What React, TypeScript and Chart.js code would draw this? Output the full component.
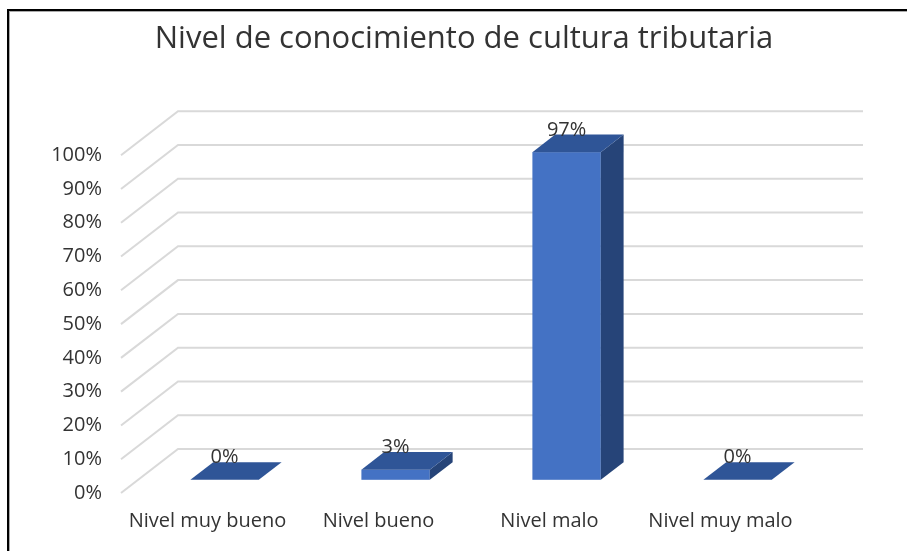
import React, { useEffect, useRef } from 'react';
import { Chart, registerables } from 'chart.js';

Chart.register(...registerables);

const title = 'Nivel de conocimiento de cultura tributaria';
const categories = ['Nivel muy bueno', 'Nivel bueno', 'Nivel malo', 'Nivel muy malo'];
const values = [0, 3, 97, 0];
const valueLabels = ['0%', '3%', '97%', '0%'];
const yMin = 0;
const yMax = 100;
const yStep = 10;

const FONT = "'Open Sans', 'Noto Sans', sans-serif";
const TEXT = '#333333';
const GRID = '#D9D9D9';
const FRONT_COLOR = '#4472C4';
const TOP_COLOR = '#2F5597';
const SIDE_COLOR = '#264478';

// projection of the depth axis (full depth of the plot box)
const DEPTH_X = 57;
const DEPTH_Y = -44;
const BAR_FRONT = 0.3; // fraction of depth where bar front sits
const BAR_DEPTH = 0.4; // fraction of depth occupied by bar

const threeD = {
  id: 'threeD',
  beforeDraw(chart: any) {
    const ctx = chart.ctx;
    ctx.save();
    ctx.fillStyle = '#ffffff';
    ctx.fillRect(0, 0, chart.width, chart.height);
    ctx.fillStyle = '#000000';
    ctx.fillRect(7, 9, 2, chart.height);
    ctx.fillRect(7, 9, chart.width, 2);
    ctx.fillStyle = '#aaaaaa';
    ctx.fillRect(9, 11, 1, chart.height);
    ctx.fillRect(9, 11, chart.width, 1);
    ctx.restore();
  },
  beforeDatasetsDraw(chart: any) {
    const ctx = chart.ctx;
    const { left, right } = chart.chartArea;
    const yScale = chart.scales.y;
    ctx.save();
    ctx.strokeStyle = GRID;
    ctx.lineWidth = 2;
    yScale.ticks.forEach((t: any) => {
      const y = yScale.getPixelForValue(t.value);
      ctx.beginPath();
      ctx.moveTo(left - 1, y);
      ctx.lineTo(left - 1 + DEPTH_X, y + DEPTH_Y);
      ctx.lineTo(right + DEPTH_X, y + DEPTH_Y);
      ctx.stroke();
    });
    ctx.restore();
  },
  afterDatasetsDraw(chart: any) {
    const ctx = chart.ctx;
    const meta = chart.getDatasetMeta(0);
    const fx = BAR_FRONT * DEPTH_X;
    const fy = BAR_FRONT * DEPTH_Y;
    const dx = BAR_DEPTH * DEPTH_X;
    const dy = BAR_DEPTH * DEPTH_Y;
    ctx.save();
    meta.data.forEach((el: any, i: number) => {
      const { x, y, base, width } = el.getProps(['x', 'y', 'base', 'width'], true);
      const l = x - width / 2 + fx;
      const r = x + width / 2 + fx;
      const top = y + fy;
      const bot = base + fy;
      const h = bot - top;
      if (h > 0.5) {
        ctx.fillStyle = FRONT_COLOR;
        ctx.fillRect(l, top, r - l, h);
        ctx.fillStyle = SIDE_COLOR;
        ctx.beginPath();
        ctx.moveTo(r, top);
        ctx.lineTo(r + dx, top + dy);
        ctx.lineTo(r + dx, bot + dy);
        ctx.lineTo(r, bot);
        ctx.closePath();
        ctx.fill();
      }
      ctx.fillStyle = TOP_COLOR;
      ctx.beginPath();
      ctx.moveTo(l, top);
      ctx.lineTo(r, top);
      ctx.lineTo(r + dx, top + dy);
      ctx.lineTo(l + dx, top + dy);
      ctx.closePath();
      ctx.fill();

      ctx.fillStyle = TEXT;
      ctx.font = `20px ${FONT}`;
      ctx.textAlign = 'center';
      ctx.textBaseline = 'alphabetic';
      ctx.fillText(valueLabels[i], x + fx, top + dy + 1);
    });
    ctx.restore();
  },
};

export default function App() {
  const ref = useRef<HTMLCanvasElement | null>(null);
  useEffect(() => {
    if (!ref.current) return;
    const chart = new Chart(ref.current, {
      type: 'bar',
      data: {
        labels: categories,
        datasets: [
          {
            data: values,
            backgroundColor: 'rgba(0,0,0,0)',
            borderWidth: 0,
            barPercentage: 0.4,
            categoryPercentage: 1.0,
          },
        ],
      },
      options: {
        responsive: false,
        animation: false,
        devicePixelRatio: 1,
        layout: { padding: { left: 22, right: 101, top: 0, bottom: 0 } },
        plugins: {
          legend: { display: false },
          tooltip: { enabled: false },
          title: {
            display: true,
            text: title,
            fullSize: false,
            color: TEXT,
            font: { family: FONT, size: 31, weight: 'normal', lineHeight: 1.2 },
            padding: { top: 21, bottom: 97 },
          },
        },
        scales: {
          x: {
            grid: { display: false, drawTicks: false },
            border: { display: false },
            ticks: { color: TEXT, font: { family: FONT, size: 20 }, padding: 16, maxRotation: 0, autoSkip: false },
            afterFit(scale: any) {
              scale.height = 58;
            },
          },
          y: {
            min: yMin,
            max: yMax,
            grid: { display: false, drawTicks: false },
            border: { display: false },
            ticks: {
              stepSize: yStep,
              color: TEXT,
              font: { family: FONT, size: 20 },
              padding: 20,
              callback: (v: any) => `${v}%`,
            },
            afterFit(scale: any) {
              scale.width = 100;
            },
          },
        },
      },
      plugins: [threeD],
    });
    return () => chart.destroy();
  }, []);
  return (
    <div style={{ position: 'fixed', left: 0, top: 0, width: 907, height: 551, overflow: 'hidden' }}>
      <canvas ref={ref} width={907} height={551} style={{ display: 'block' }} />
    </div>
  );
}
